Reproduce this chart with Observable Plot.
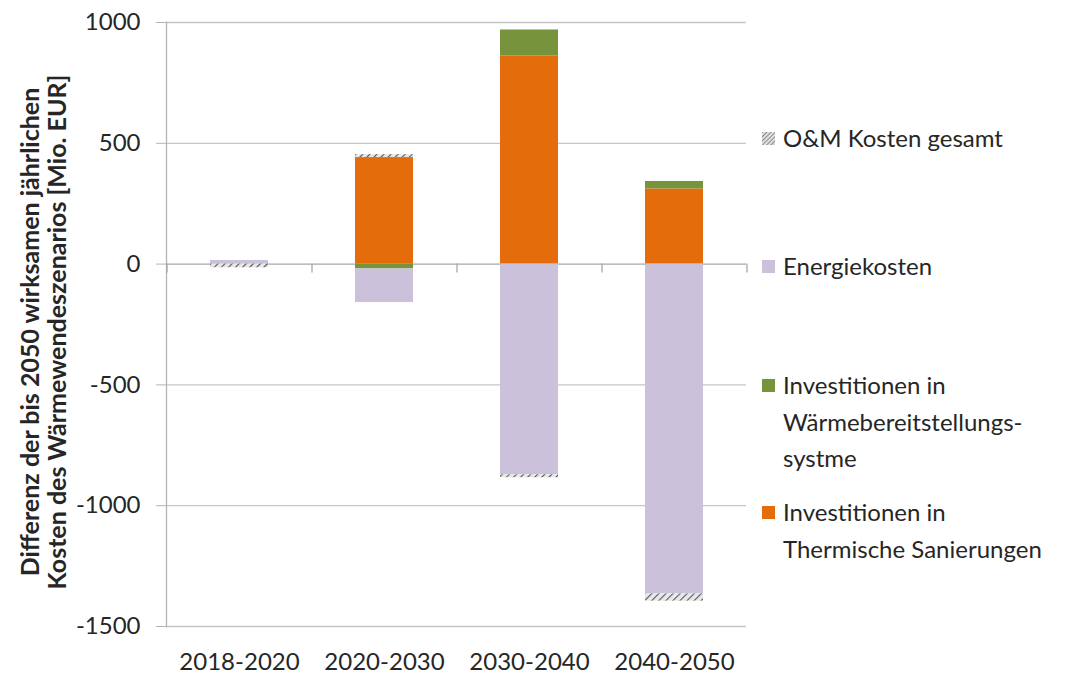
<!DOCTYPE html>
<html>
<head>
<meta charset="utf-8">
<script src="https://cdn.jsdelivr.net/npm/d3@7"></script>
<script src="https://cdn.jsdelivr.net/npm/@observablehq/plot@0.6"></script>
<style>
  html, body { margin: 0; padding: 0; background: #fff; }
  #wrap { position: relative; width: 1069px; height: 675px; font-family: Lato, sans-serif; color: #262626; }
  #chart { position: absolute; left: 0; top: 0; }
  .ytitle { position: absolute; font-weight: bold; font-size: 25px; white-space: nowrap; transform: translate(-50%, -50%) rotate(-90deg); }
  .leg { position: absolute; left: 762px; font-size: 24px; line-height: 36.5px; white-space: nowrap; }
  .leg .sw { position: absolute; left: 0; top: 12px; width: 13px; height: 13px; }
  .leg .tx { margin-left: 21px; }
</style>
</head>
<body>
<div id="wrap">
  <div id="chart"></div>
</div>
<script>
// ---- data ----
const categories = ["2018-2020", "2020-2030", "2030-2040", "2040-2050"];
const seriesNames = [
  "Investitionen in Thermische Sanierungen",
  "Investitionen in Wärmebereitstellungs-systme",
  "Energiekosten",
  "O&M Kosten gesamt"
];
const sanierung   = [0, 441, 862, 311];
const waerme      = [0, -20, 107, 31];
const energie     = [15, -139, -872, -1365];
const om          = [-15, 12, -12, -30];
const yTicks = [-1500, -1000, -500, 0, 500, 1000];
const seriesColors = ["#E46C0A", "#77933C", "#CCC1DA", "url(#hatch)"];
const legendLines = [
  ["O&M Kosten gesamt"],
  ["Energiekosten"],
  ["Investitionen in", "Wärmebereitstellungs-", "systme"],
  ["Investitionen in", "Thermische Sanierungen"]
];
const yTitle = ["Differenz der bis 2050 wirksamen jährlichen", "Kosten des Wärmewendeszenarios [Mio. EUR]"];

// ---- table ----
const seriesValues = [sanierung, waerme, energie, om];
const rows = [];
categories.forEach((c, i) => {
  seriesNames.forEach((s, k) => rows.push({cat: c, series: s, value: seriesValues[k][i]}));
});

const W = 760, H = 675, mL = 166, mR = 14, mT = 22, mB = 49;
const step = (W - mL - mR) / categories.length;
const boundaries = categories.map((c) => ({cat: c, side: -1})).concat([{cat: categories[categories.length - 1], side: 1}]);

const plot = Plot.plot({
  width: W, height: H,
  marginLeft: mL, marginRight: mR, marginTop: mT, marginBottom: mB,
  style: {fontFamily: "Lato, sans-serif", color: "#262626", background: "transparent"},
  x: {domain: categories, paddingInner: 0.6, paddingOuter: 0.3, align: 0.5},
  y: {domain: [-1500, 1000]},
  color: {domain: seriesNames, range: seriesColors},
  marks: [
    Plot.ruleY(yTicks.filter(d => d !== 0), {stroke: "#c6c6c6", strokeWidth: 1.3}),
    Plot.frame({anchor: "left", stroke: "#b4b4b4", strokeWidth: 1.3}),
    Plot.axisY({ticks: yTicks, tickSize: 10, tickPadding: 16, fontSize: 24, stroke: "#b4b4b4", fill: "#262626", label: null, tickFormat: d => d < 0 ? "-" + Math.abs(d) : String(d)}),
    Plot.axisX({tickSize: 0, tickPadding: 26, fontSize: 24, fill: "#262626", label: null}),
    Plot.ruleY([0], {stroke: "#a8a8a8", strokeWidth: 1.3}),
    Plot.ruleX(boundaries, {x: "cat", y1: 0, y2: 0, insetBottom: -9, stroke: "#a8a8a8", strokeWidth: 1.3}),
    Plot.barY(rows, Plot.stackY({x: "cat", y: "value", fill: "series", order: null}))
  ]
});

// shift boundary ticks by half a band step to sit between categories
const ruleGroups = plot.querySelectorAll("g[aria-label='rule']");
const bGroup = ruleGroups[ruleGroups.length - 1];
bGroup.querySelectorAll("line").forEach((ln, i) => {
  const side = boundaries[i].side;
  ln.setAttribute("transform", `translate(${side * step / 2},0)`);
});

// hatch pattern
const defs = d3.select(plot).insert("defs", ":first-child");
const pat = defs.append("pattern").attr("id", "hatch").attr("patternUnits", "userSpaceOnUse")
  .attr("width", 5).attr("height", 5).attr("patternTransform", "rotate(45)");
pat.append("rect").attr("width", 5).attr("height", 5).attr("fill", "#e8e8e8");
pat.append("line").attr("x1", 0).attr("y1", 0).attr("x2", 0).attr("y2", 5).attr("stroke", "#555").attr("stroke-width", 2.2);

document.getElementById("chart").appendChild(plot);

const wrap = document.getElementById("wrap");
// y title
[29, 56].forEach((x, i) => {
  const t = document.createElement("div");
  t.className = "ytitle";
  t.style.left = x + "px";
  t.style.top = "332px";
  t.textContent = yTitle[i];
  wrap.appendChild(t);
});

// legend
const legendTops = [120, 248, 367, 494];
const legendColors = ["url(#hatch2)", "#CCC1DA", "#77933C", "#E46C0A"];
legendLines.forEach((lines, i) => {
  const d = document.createElement("div");
  d.className = "leg";
  d.style.top = legendTops[i] + "px";
  const sw = document.createElementNS("http://www.w3.org/2000/svg", "svg");
  sw.setAttribute("class", "sw");
  sw.setAttribute("width", 13); sw.setAttribute("height", 13);
  sw.innerHTML = i === 0
    ? `<defs><pattern id="hatch2" patternUnits="userSpaceOnUse" width="3" height="3" patternTransform="rotate(45)"><rect width="3" height="3" fill="#e0e0e0"/><line x1="0" y1="0" x2="0" y2="3" stroke="#666" stroke-width="1.4"/></pattern></defs><rect width="13" height="13" fill="url(#hatch2)"/>`
    : `<rect width="13" height="13" fill="${legendColors[i]}"/>`;
  d.appendChild(sw);
  const tx = document.createElement("div");
  tx.className = "tx";
  tx.innerHTML = lines.map(l => l.replace(/&/g, "&amp;")).join("<br>");
  d.appendChild(tx);
  wrap.appendChild(d);
});
</script>
</body>
</html>
